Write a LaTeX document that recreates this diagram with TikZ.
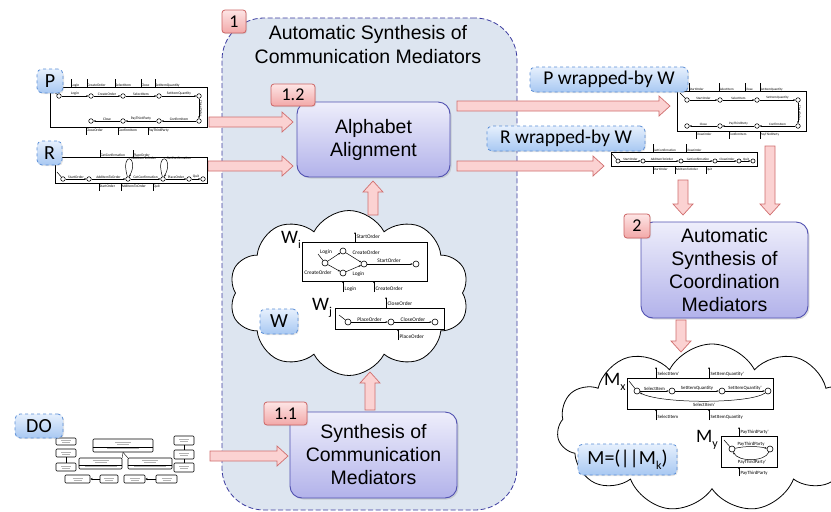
\documentclass[tikz,border=0pt]{standalone}
\usepackage{fontspec}
\setmainfont{Liberation Sans}
\newfontfamily\calfont{Carlito}
\usetikzlibrary{shapes.symbols,calc,arrows.meta,shadows}
\definecolor{regfill}{HTML}{DDE5F0}
\definecolor{regline}{HTML}{3C3CA0}
\definecolor{boxtop}{HTML}{EEEEFB}
\definecolor{boxbot}{HTML}{B2B2EA}
\definecolor{boxline}{HTML}{5050B0}
\definecolor{redtop}{HTML}{FDE5E5}
\definecolor{redbot}{HTML}{F2A8A8}
\definecolor{redline}{HTML}{CC6464}
\definecolor{bluetop}{HTML}{E6F0FD}
\definecolor{bluebot}{HTML}{A8C8F2}
\definecolor{blueline}{HTML}{5B8ED6}
\definecolor{arrfill}{HTML}{FBD2D2}
\definecolor{arrline}{HTML}{D06E6E}
\tikzset{
  proc/.style={draw=boxline, line width=0.9pt, rounded corners=12pt, top color=boxtop, bottom color=boxbot,
    font=\fontsize{19.5}{23}\selectfont, align=center, inner sep=0pt,
    drop shadow={opacity=0.25, shadow xshift=1.5pt, shadow yshift=-1.5pt}},
  redbadge/.style={draw=redline, line width=0.8pt, rounded corners=3pt, top color=redtop, bottom color=redbot,
    font=\calfont\fontsize{18}{18}\selectfont, inner sep=0pt,
    drop shadow={opacity=0.2, shadow xshift=1pt, shadow yshift=-1pt}},
  bluebadge/.style={draw=blueline, dashed, line width=0.8pt, rounded corners=5pt, top color=bluetop, bottom color=bluebot,
    font=\calfont\fontsize{20}{20}\selectfont, inner sep=0pt,
    drop shadow={opacity=0.2, shadow xshift=1pt, shadow yshift=-1pt}},
  barrow/.style={draw=arrline, fill=arrfill, line width=0.7pt, line join=miter},
  mbox/.style={draw, line width=0.7pt, inner sep=0pt, fill=white},
  st/.style={circle, draw, fill=white, inner sep=0pt, minimum size=4.6pt, line width=0.55pt},
  stb/.style={circle, draw, fill=white, inner sep=0pt, minimum size=6pt, line width=0.6pt},
  tr/.style={line width=0.5pt},
  tra/.style={line width=0.5pt, -{Stealth[length=2.2pt,width=1.8pt]}},
  lS/.style={font=\calfont\fontsize{3.6}{4}\selectfont, inner sep=0.3pt},
  lR/.style={font=\calfont\fontsize{3.3}{4}\selectfont, inner sep=0.3pt},
  lW/.style={font=\calfont\fontsize{5.4}{6}\selectfont, inner sep=0.4pt},
  lM/.style={font=\calfont\fontsize{4.8}{5}\selectfont, inner sep=0.4pt},
  big/.style={font=\calfont\fontsize{19}{19}\selectfont, inner sep=0pt},
  dobox/.style={draw, rounded corners=1pt, line width=0.6pt, inner sep=0pt, fill=white},
  cloudy/.style={cloud, draw, fill=white, line width=0.8pt, cloud puff arc=125, inner sep=0pt}
}
\newcommand\blockarrow[2]{%
  \coordinate (ba-h) at ($(#2)!11pt!(#1)$);
  \draw[barrow] ($(#1)!5pt!90:(#2)$) -- ($(ba-h)!5pt!90:(#2)$) -- ($(ba-h)!10pt!90:(#2)$) -- (#2)
    -- ($(ba-h)!10pt!-90:(#2)$) -- ($(ba-h)!5pt!-90:(#2)$) -- ($(#1)!5pt!-90:(#2)$) -- cycle;}
\begin{document}
\begin{tikzpicture}[x=1pt,y=-1pt]
\useasboundingbox (0,0) rectangle (831,512);
\clip (0,0) rectangle (831,512);
\fill[white] (0,0) rectangle (831,512);

% ---------- region 1 ----------
\node[draw=regline, dash pattern=on 5pt off 2.5pt, fill=regfill, rounded corners=42pt, line width=0.8pt, inner sep=0pt,
      minimum width=295pt, minimum height=492pt] (reg) at (369.5,264) {};
\node[align=center, font=\fontsize{19.5}{24}\selectfont] (title) at (368,45) {Automatic Synthesis of\\Communication Mediators};
\node[redbadge, minimum width=24pt, minimum height=23pt] (b1) at (234,21.5) {1};

% ---------- clouds ----------
\node[cloudy, cloud puffs=10, aspect=1.45, minimum width=240pt, minimum height=165pt] (wcloud) at (349,293) {};
\node[cloudy, cloud puffs=11, aspect=1.75, minimum width=310pt, minimum height=168pt] (mcloud) at (712,428) {};

% ---------- process boxes ----------
\node[proc, minimum width=153pt, minimum height=75pt] (align) at (373.5,139.5) {Alphabet\\Alignment};
\node[redbadge, minimum width=44pt, minimum height=22pt] (b12) at (293,95) {1.2};
\node[proc, minimum width=167pt, minimum height=86pt] (synth) at (373.5,455) {Synthesis of\\Communication\\Mediators};
\node[redbadge, minimum width=43pt, minimum height=23pt] (b11) at (285.5,413.5) {1.1};
\node[proc, minimum width=167pt, minimum height=96pt] (coord) at (724.5,270) {Automatic\\Synthesis of\\Coordination\\Mediators};
\node[redbadge, minimum width=26pt, minimum height=24pt] (b2) at (637,226) {2};

% ---------- block arrows ----------
\coordinate (a1s) at (209,122); \coordinate (a1e) at (293,122);
\coordinate (a2s) at (208,166); \coordinate (a2e) at (293,166);
\coordinate (a3s) at (457,106); \coordinate (a3e) at (670,106);
\coordinate (a4s) at (457,166); \coordinate (a4e) at (604,166);
\coordinate (a5s) at (373,215); \coordinate (a5e) at (373,181);
\coordinate (a6s) at (370,410); \coordinate (a6e) at (370,372);
\coordinate (a7s) at (210,456); \coordinate (a7e) at (288,456);
\coordinate (a8s) at (770,146); \coordinate (a8e) at (770,215);
\coordinate (a9s) at (683,180); \coordinate (a9e) at (683,215);
\coordinate (a10s) at (681,320); \coordinate (a10e) at (681,352);
\blockarrow{a1s}{a1e}
\blockarrow{a2s}{a2e}
\blockarrow{a3s}{a3e}
\blockarrow{a4s}{a4e}
\blockarrow{a5s}{a5e}
\blockarrow{a6s}{a6e}
\blockarrow{a7s}{a7e}
\blockarrow{a8s}{a8e}
\blockarrow{a9s}{a9e}
\blockarrow{a10s}{a10e}

% ---------- P machine ----------
\node[mbox, minimum width=157pt, minimum height=40pt] (Pbox) at (128.5,107) {};
\foreach \n/\x/\y in {p0/59/96, p1/91/96, p2/123/96, p3/159/96, p4/199/96, p5/199/121, p6/159/121, p7/123/121, p8/91/121}
  \node[st] (\n) at (\x,\y) {};
\coordinate (p0i) at (52,90);
\draw[tr] (p0i) -- (p0);
\draw[tra] (p0) -- node[lS, above] {Login} (p1);
\draw[tra] (p1) -- node[lS, above] {CreateOrder} (p2);
\draw[tra] (p2) -- node[lS, above] {SelectItem} (p3);
\draw[tra] (p3) -- node[lS, above] {SetItemQuantity} (p4);
\draw[tra] (p4) -- node[lS, rotate=-90, anchor=south] {CloseOrder} (p5);
\draw[tra] (p5) -- node[lS, above] {ConfirmItem} (p6);
\draw[tra] (p6) -- node[lS, above] {PayThirdParty} (p7);
\draw[tra] (p7) -- node[lS, above] {Close} (p8);
\foreach \x/\t in {71/Login, 87/CreateOrder, 115/SelectItem, 141/Close, 155/SetItemQuantity} {
  \draw[tr] (\x,87) -- (\x,79);
  \node[lS, anchor=south west] at (\x,87.3) {\t};}
\foreach \x/\t in {86/CloseOrder, 118/ConfirmItem, 148/PayThirdParty} {
  \draw[tr] (\x,127) -- (\x,135);
  \node[lS, anchor=north west] at (\x,128.5) {\t};}
\node[bluebadge, minimum width=26pt, minimum height=24pt] (Pb) at (50,81) {P};

% ---------- R machine ----------
\node[mbox, minimum width=152pt, minimum height=26pt] (Rbox) at (131,170) {};
\foreach \n/\x in {r0/63, r1/89, r2/128, r3/163, r4/189, r5/203}
  \node[st] (\n) at (\x,179) {};
\coordinate (r0i) at (57,172);
\draw[tr] (r0i) -- (r0);
\draw[tra] (r0) -- node[lS, above] {StartOrder} (r1);
\draw[tra] (r1) -- node[lS, above] {AddItemToOrder} (r2);
\draw[tra] (r2) -- node[lS, above] {GetConfirmation} (r3);
\draw[tra] (r3) -- node[lS, above] {PlaceOrder} (r4);
\draw[tra] (r4) -- node[lS, above] {Quit} (r5);
\draw[tra] (r2) .. controls (120,150) and (140,156) .. node[lS, above right, pos=0.6] {AddItemToOrder} (r2);
\draw[tra] (r3) .. controls (155,150) and (175,156) .. node[lS, above right, pos=0.6] {GetConfirmation} (r3);
\foreach \x/\t in {100/GetConfirmation, 133/PlaceOrder} {
  \draw[tr] (\x,157) -- (\x,150);
  \node[lS, anchor=south west] at (\x,157.3) {\t};}
\foreach \x/\t in {99/StartOrder, 121/AddItemToOrder, 153/Quit} {
  \draw[tr] (\x,183) -- (\x,191);
  \node[lS, anchor=north west] at (\x,184.5) {\t};}
\node[bluebadge, minimum width=25pt, minimum height=24pt] (Rb) at (49.5,153) {R};

% ---------- P wrapped-by W ----------
\node[mbox, minimum width=129pt, minimum height=40pt] (PWbox) at (741.5,111) {};
\foreach \n/\x/\y in {a0/687/100, a1/720/100, a2/757/100, a3/798/100, a4/798/126, a5/757/126, a6/720/126, a7/687/126}
  \node[st] (\n) at (\x,\y) {};
\coordinate (a0i) at (680,93);
\draw[tr] (a0i) -- (a0);
\draw[tra] (a0) -- node[lR, above] {StartOrder} (a1);
\draw[tra] (a1) -- node[lR, above] {SelectItem} (a2);
\draw[tra] (a2) -- node[lR, above] {SetItemQuantity} (a3);
\draw[tra] (a3) -- node[lR, rotate=-90, anchor=south] {CloseOrder} (a4);
\draw[tra] (a4) -- node[lR, above] {ConfirmItem} (a5);
\draw[tra] (a5) -- node[lR, above] {PayThirdParty} (a6);
\draw[tra] (a6) -- node[lR, above] {Close} (a7);
\foreach \x/\t in {689/StartOrder, 719/SelectItem, 745/Close, 760/SetItemQuantity} {
  \draw[tr] (\x,91) -- (\x,83);
  \node[lR, anchor=south west] at (\x,91.3) {\t};}
\foreach \x/\t in {696/CloseOrder, 729/ConfirmItem, 760/PayThirdParty} {
  \draw[tr] (\x,131) -- (\x,139);
  \node[lR, anchor=north west] at (\x,132.5) {\t};}
\node[bluebadge, font=\calfont\fontsize{19.5}{20}\selectfont, minimum width=158pt, minimum height=25pt] (PWb) at (609,79.5) {P wrapped-by W};

% ---------- R wrapped-by W ----------
\node[mbox, minimum width=146pt, minimum height=14pt] (RWbox) at (684,159) {};
\foreach \n/\x in {c0/618, c1/643, c2/681, c3/715, c4/739, c5/753}
  \node[st, minimum size=4.2pt] (\n) at (\x,161) {};
\coordinate (c0i) at (612,154);
\draw[tr] (c0i) -- (c0);
\draw[tra] (c0) -- node[lR, above] {StartOrder} (c1);
\draw[tra] (c1) -- node[lR, above] {AddItemToOrder} (c2);
\draw[tra] (c2) -- node[lR, above] {GetConfirmation} (c3);
\draw[tra] (c3) -- node[lR, above] {CloseOrder} (c4);
\draw[tra] (c4) -- node[lR, above] {Quit} (c5);
\foreach \x/\t in {653/GetConfirmation, 686/CloseOrder} {
  \draw[tr] (\x,152) -- (\x,144);
  \node[lR, anchor=south west] at (\x,152.3) {\t};}
\foreach \x/\t in {653/StartOrder, 675/AddItemToOrder, 706/Quit} {
  \draw[tr] (\x,166) -- (\x,174);
  \node[lR, anchor=north west] at (\x,167.5) {\t};}
\node[bluebadge, font=\calfont\fontsize{19.5}{20}\selectfont, minimum width=158pt, minimum height=25pt] (RWb) at (566,138.5) {R wrapped-by W};

% ---------- W_i ----------
\node[mbox, minimum width=125pt, minimum height=39pt] (Wibox) at (364.5,261.5) {};
\node[stb] (w0) at (325,263) {};
\node[stb] (w1) at (343,251) {};
\node[stb] (w2) at (364,264) {};
\node[stb] (w3) at (343,273) {};
\node[stb] (w4) at (416,264) {};
\coordinate (w0i) at (318,254);
\draw[tr] (w0i) -- (w0);
\draw[tra] (w0) -- (w1);
\draw[tra] (w1) -- (w2);
\draw[tra] (w0) -- (w3);
\draw[tra] (w3) -- (w2);
\draw[tra] (w2) -- (w4);
\node[lW] at (326,252) {Login};
\node[lW, anchor=west] at (352,253) {CreateOrder};
\node[lW] at (318,273) {CreateOrder};
\node[lW, anchor=west] at (352,274) {Login};
\node[lW] at (389,260.5) {StartOrder};
\draw[tra] (355,242) -- (355,232);
\node[lW, anchor=west] at (356,237) {StartOrder};
\draw[tra] (343,292) -- (343,281);
\node[lW, anchor=west] at (344,289) {Login};
\draw[tra] (374,292) -- (374,281);
\node[lW, anchor=west] at (375,289) {CreateOrder};
\node[big, anchor=base west] (wil) at (281,243) {W\raisebox{-5pt}{\fontsize{12}{12}\selectfont i}};

% ---------- W_j ----------
\node[mbox, minimum width=109pt, minimum height=21pt] (Wjbox) at (389.5,318.5) {};
\node[stb] (j0) at (348,322) {};
\node[stb] (j1) at (391,322) {};
\node[stb] (j2) at (435,322) {};
\coordinate (j0i) at (339,315);
\draw[tr] (j0i) -- (j0);
\draw[tra] (j0) -- node[lW, above] {PlaceOrder} (j1);
\draw[tra] (j1) -- node[lW, above] {CloseOrder} (j2);
\draw[tra] (386,308) -- (386,297);
\node[lW, anchor=west] at (387,304) {CloseOrder};
\draw[tra] (398,340) -- (398,329);
\node[lW, anchor=west] at (399,337) {PlaceOrder};
\node[big, anchor=base west] (wjl) at (312,310) {W\raisebox{-5pt}{\fontsize{12}{12}\selectfont j}};
\node[bluebadge, minimum width=38pt, minimum height=25pt] (Wb) at (279,321.5) {W};

% ---------- M_x ----------
\node[mbox, minimum width=146pt, minimum height=31pt] (Mxbox) at (700,393.5) {};
\node[stb] (m0) at (637,391) {};
\node[stb] (m1) at (672,391) {};
\node[stb] (m2) at (722,391) {};
\node[stb] (m3) at (768,391) {};
\coordinate (m0i) at (629,381);
\draw[tr] (m0i) -- (m0);
\draw[tra] (m0) -- node[lM, above] {SelectItem} (m1);
\draw[tra] (m1) -- node[lM, above] {SetItemQuantity} (m2);
\draw[tra] (m2) -- node[lM, above] {SetItemQuantity'} (m3);
\draw[tra] (m3) .. controls (750,404) and (660,404) .. (m0);
\node[lM] at (704,404.5) {SelectItem'};
\draw[tra] (656,378) -- (656,367);
\node[lM, anchor=west] at (657,374) {SelectItem'};
\draw[tra] (709,378) -- (709,367);
\node[lM, anchor=west] at (710,374) {SetItemQuantity'};
\draw[tra] (656,420) -- (656,409);
\node[lM, anchor=west] at (657,417) {SelectItem};
\draw[tra] (709,420) -- (709,409);
\node[lM, anchor=west] at (710,417) {SetItemQuantity};
\node[big, anchor=base west] (mxl) at (604,385) {M\raisebox{-5pt}{\fontsize{12}{12}\selectfont x}};

% ---------- M_y ----------
\node[mbox, minimum width=56pt, minimum height=31pt] (Mybox) at (749,451.5) {};
\node[stb] (n0) at (732,449) {};
\node[stb] (n1) at (770,449) {};
\coordinate (n0i) at (724,440);
\draw[tr] (n0i) -- (n0);
\draw[tra] (n0) .. controls (745,446) and (757,446) .. node[lM, above] {PayThirdParty} (n1);
\draw[tra] (n1) .. controls (765,462) and (738,462) .. (n0);
\node[lM] at (752,462.5) {PayThirdParty'};
\draw[tra] (739,436) -- (739,427);
\node[lM, anchor=west] at (740,432) {PayThirdParty'};
\draw[tra] (739,476) -- (739,467);
\node[lM, anchor=west] at (740,473) {PayThirdParty};
\node[big, anchor=base west] (myl) at (696,442) {M\raisebox{-5pt}{\fontsize{12}{12}\selectfont y}};
\node[bluebadge, minimum width=99pt, minimum height=31pt] (Mb) at (627.5,459.5) {M=(||M\raisebox{-5pt}{\fontsize{12}{12}\selectfont k})};

% ---------- DO diagram ----------
\node[dobox, minimum width=20pt, minimum height=7pt] (L1) at (66,441.5) {};
\node[dobox, minimum width=20pt, minimum height=8pt] (L2) at (66,453) {};
\node[dobox, minimum width=20pt, minimum height=8pt] (L3) at (66,467) {};
\node[dobox, minimum width=60pt, minimum height=13pt] (T) at (123,445.5) {};
\node[dobox, minimum width=43pt, minimum height=11pt] (M1) at (100.5,463.5) {};
\node[dobox, minimum width=44pt, minimum height=11pt] (M2) at (150,463.5) {};
\node[dobox, minimum width=20pt, minimum height=9pt] (R1) at (184,440.5) {};
\node[dobox, minimum width=20pt, minimum height=9pt] (R2) at (184,454.5) {};
\node[dobox, minimum width=20pt, minimum height=9pt] (R3) at (184,467.5) {};
\node[dobox, minimum width=25pt, minimum height=8pt] (B1) at (77.5,479) {};
\node[dobox, minimum width=18pt, minimum height=8pt] (B2) at (109,479) {};
\node[dobox, minimum width=21pt, minimum height=8pt] (B3) at (134.5,479) {};
\node[dobox, minimum width=21pt, minimum height=8pt] (B4) at (166.5,479) {};
\draw[line width=0.4pt] ($(T.south west)!0.35!(T.north west)$) -- ($(T.south east)!0.35!(T.north east)$);
\draw[line width=0.4pt] ($(M1.south west)!0.35!(M1.north west)$) -- ($(M1.south east)!0.35!(M1.north east)$);
\draw[line width=0.4pt] ($(M2.south west)!0.35!(M2.north west)$) -- ($(M2.south east)!0.35!(M2.north east)$);
\foreach \b in {L1,L2,L3,R1,R2,R3,B1,B2,B3,B4} {
  \draw[gray!60, line width=0.3pt] ($(\b.center)+(-5,-1.3)$) -- ($(\b.center)+(5,-1.3)$);
  \draw[gray!60, line width=0.3pt] ($(\b.center)+(-4,1)$) -- ($(\b.center)+(4,1)$);}
\foreach \b in {T,M1,M2} {
  \draw[gray!60, line width=0.3pt] ($(\b.center)+(-8,-3)$) -- ($(\b.center)+(8,-3)$);
  \draw[gray!60, line width=0.3pt] ($(\b.center)+(-6,-1)$) -- ($(\b.center)+(6,-1)$);
  \draw[gray!60, line width=0.3pt] ($(\b.center)+(-16,2.5)$) -- ($(\b.center)+(16,2.5)$);}
\draw[line width=0.4pt] (T.south) -- (M1.north east);
\draw[line width=0.4pt] (T.south) -- (M2.north west);
\draw[line width=0.4pt] (L2.south) -- (L3.north);
\draw[line width=0.4pt] (R1.south) -- (R2.north);
\draw[line width=0.4pt] (R2.south) -- (R3.north);
\draw[line width=0.4pt, -{Triangle[open,length=2pt,width=2pt]}] (B2.west) -- (B1.east);
\draw[line width=0.4pt, -{Triangle[open,length=2pt,width=2pt]}] (B4.west) -- (B3.east);
\node[bluebadge, minimum width=48pt, minimum height=24pt] (DOb) at (39,426) {DO};
\end{tikzpicture}
\end{document}
